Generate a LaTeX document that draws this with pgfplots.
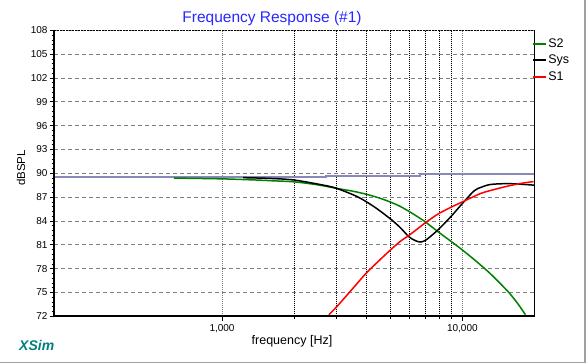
\documentclass[border=0pt]{standalone}
\usepackage{fontspec}
\setmainfont{Liberation Sans}
\usepackage{pgfplots}
\pgfplotsset{compat=1.18}
\definecolor{sgreen}{RGB}{0,128,0}
\definecolor{flatpurple}{RGB}{136,136,187}
\definecolor{titleblue}{RGB}{40,40,255}
\definecolor{xsimteal}{RGB}{0,128,128}
\definecolor{gridgray}{RGB}{128,128,128}
\definecolor{framegray}{RGB}{160,160,160}
\begin{document}
\begin{tikzpicture}[x=1pt,y=1pt]
\useasboundingbox (0,0) rectangle (587,364);
\fill[white] (0,0) rectangle (587,364);
\draw[framegray, line width=1.5pt] (0,1.7) -- (585.2,1.7) -- (585.2,364);
\begin{axis}[
  at={(54pt,47.7pt)}, anchor=south west,
  scale only axis, width=480.7pt, height=286pt,
  xmode=log, xmin=200, xmax=20000, ymin=72, ymax=108,
  xtick={1000,10000}, xticklabels={{1,000},{10,000}},
  minor xtick={2000,3000,4000,5000,6000,7000,8000,9000},
  ytick={72,75,...,108}, minor y tick num=4,
  xmajorgrids, xminorgrids, ymajorgrids,
  major x grid style={gridgray, dash pattern=on 1pt off 1pt, line width=0.6pt},
  minor x grid style={black, dash pattern=on 1pt off 1pt, line width=0.6pt},
  major y grid style={gridgray, dash pattern=on 4pt off 3pt, line width=0.8pt},
  axis line style={draw=none},
  tick align=outside, xtick pos=bottom, ytick pos=left,
  major tick length=4.5pt, minor tick length=2.5pt,
  tick style={black, line width=0.6pt},
  ticklabel style={font=\fontsize{10}{12}\selectfont},
  yticklabel style={xshift=1.5pt},
  /pgf/number format/assume math mode=true,
  legend style={at={(1,1)}, anchor=north west, xshift=-3pt, yshift=-6pt,
    draw=none, fill=none, inner sep=0pt, row sep=1.5pt,
    font=\fontsize{12.5}{15}\selectfont,
    nodes={text height=9pt, text depth=3pt, inner sep=1.5pt}},
  legend cell align=left,
  legend image code/.code={\draw[#1, line width=2pt] (0pt,0pt) -- (13pt,0pt);},
  after end axis/.code={
    \draw[black, line width=1.5pt] (rel axis cs:0,0) -- (rel axis cs:0,1);
    \draw[black, line width=2pt] (rel axis cs:0,0) -- (rel axis cs:1,0);
    \draw[black, line width=0.8pt] (rel axis cs:1,0) -- (rel axis cs:1,1);
    \draw[black, line width=0.6pt, dash pattern=on 2pt off 1pt] (rel axis cs:0,1) -- (rel axis cs:1,1);
  },
]
\addplot[flatpurple, line width=2.2pt, forget plot] coordinates {
(200,89.57) (2700,89.57) (2700,89.66) (6650,89.66) (6650,89.88) (20000,89.88)};
\addplot[sgreen, line width=1.5pt, smooth] coordinates {
(630,89.40) (1000,89.30) (1400,89.15) (1640,89.05) (2000,88.92) (2500,88.55)
(3000,88.1) (3500,87.75) (4000,87.35) (4500,86.9) (5000,86.4) (5500,85.85)
(6000,85.2) (6500,84.55) (7000,83.9) (8000,82.55) (9000,81.4)
(10000,80.35) (11500,78.85) (13140,77.3) (15500,75.1) (17000,73.6) (18300,72.2)};
\addlegendentry{S2}
\addplot[black, line width=1.5pt, smooth] coordinates {
(1224,89.45) (1600,89.35) (2000,89.15) (2650,88.5) (3000,88.1) (3660,87.05)
(4290,85.8) (5000,84.3) (5500,83.2) (6000,82.0) (6400,81.5) (6720,81.35)
(7050,81.6) (7400,82.1) (7930,82.9) (8930,84.5) (10000,86.2) (11200,87.8)
(12000,88.25) (13140,88.6) (15500,88.7) (18000,88.6) (20000,88.5)};
\addlegendentry{Sys}
\addplot[red, line width=1.5pt, smooth] coordinates {
(2785,72.2) (3000,73.2) (3500,75.5) (4000,77.5) (4500,79.0) (5000,80.3)
(5500,81.4) (6000,82.2) (6500,83.0) (7000,83.75) (7500,84.4) (8000,84.95)
(9000,85.75) (10000,86.4) (11200,87.1) (12000,87.5) (13140,87.85)
(15500,88.4) (18100,88.8) (19800,88.95)};
\addlegendentry{S1}
\end{axis}
\node[titleblue, font=\fontsize{15.5}{18}\selectfont, anchor=base] at (272,341.5) {Frequency Response (\#1)};
\node[font=\fontsize{12.5}{15}\selectfont, anchor=base] at (292,19) {frequency [Hz]};
\node[rotate=90, font=\fontsize{11.5}{14}\selectfont] at (21,196) {dBSPL};
\node[xsimteal, font=\fontsize{14}{16}\selectfont\bfseries\itshape, anchor=base west, inner sep=0pt] at (19,13.3) {XSim};
\end{tikzpicture}
\end{document}
